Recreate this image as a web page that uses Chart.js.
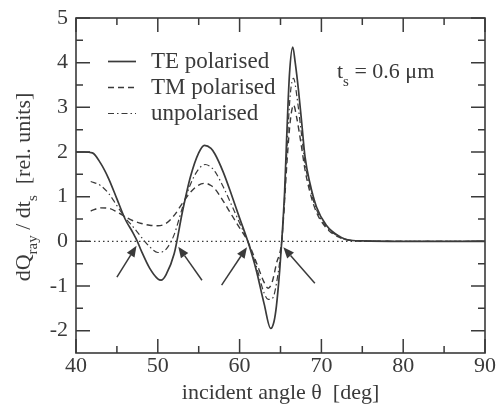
<!DOCTYPE html>
<html>
<head>
<meta charset="utf-8">
<script src="https://cdn.jsdelivr.net/npm/chart.js@4.4.1/dist/chart.umd.min.js"></script>
<style>
  html, body { margin: 0; padding: 0; background: #fff; }
  canvas { display: block; }
</style>
</head>
<body>
<canvas id="ray-chart" width="496" height="407"></canvas>
<script>
// incident angle [deg] and dQ/dt for TE polarisation
const teAngle = [40, 41, 42, 43, 44, 45, 46, 47, 47.5, 48,
    49, 50, 50.4, 51, 52, 53, 54, 55, 55.7, 56.5,
    57, 58, 59, 60, 61, 62, 63, 63.8, 64.2, 64.5,
    64.9, 65.15, 65.5, 65.75, 66.1, 66.5, 66.8, 67.2, 67.6, 68,
    68.6, 69.4, 70.6, 72.3, 73.3, 75, 80, 90];
const teValue = [2, 2, 1.98, 1.75, 1.4, 0.95, 0.5, 0.18, 0, -0.22,
    -0.6, -0.84, -0.87, -0.75, -0.28, 0.65, 1.45, 1.98, 2.15, 2.08,
    1.95, 1.55, 1.05, 0.52, 0, -0.62, -1.4, -1.95, -1.8, -1.45,
    -0.65, 0, 1.1, 2.3, 3.75, 4.35, 4.0, 3.38, 2.64, 1.89,
    1.3, 0.77, 0.36, 0.1, 0.03, 0.01, 0, 0];

// TM and unpolarised share one angle grid
const mixAngle = [41.8, 43, 44, 45, 46, 47, 48, 49, 50, 51,
    52, 53, 54, 55, 55.8, 56.5, 57, 58, 59, 60,
    61, 62, 63, 63.5, 64, 64.5, 65.15, 65.5, 65.8, 66.2,
    66.6, 67, 67.5, 68, 68.6, 69.4, 70.6, 72.3, 73.3, 75,
    80, 90];
const tmValue = [0.68, 0.75, 0.74, 0.66, 0.55, 0.46, 0.4, 0.36, 0.35, 0.4,
    0.58, 0.85, 1.1, 1.26, 1.3, 1.25, 1.17, 0.9, 0.6, 0.3,
    0, -0.45, -0.92, -1.05, -0.9, -0.5, 0, 0.9, 1.8, 2.7,
    3.05, 2.75, 2.2, 1.6, 1.1, 0.65, 0.3, 0.08, 0.03, 0.01,
    0, 0];
const unpolValue = [1.34, 1.25, 1.07, 0.8, 0.53, 0.32, 0.09, -0.12, -0.25, -0.18,
    0.15, 0.75, 1.28, 1.62, 1.72, 1.66, 1.56, 1.22, 0.82, 0.41,
    0, -0.53, -1.16, -1.3, -1.28, -0.95, 0, 1.0, 2.1, 3.3,
    3.65, 3.25, 2.5, 1.75, 1.2, 0.71, 0.33, 0.09, 0.03, 0.01,
    0, 0];

// zero reference line
const zeroAngle = [40, 90];
const zeroValue = [0, 0];

// arrows marking the zero crossings
const arrowFromX = [45.0, 55.4, 57.8, 69.2];
const arrowFromY = [-0.8, -0.87, -0.98, -0.94];
const arrowToX = [47.4, 52.5, 60.9, 65.35];
const arrowToY = [-0.1, -0.12, -0.13, -0.13];

// axis ticks
const xTicks = [40, 50, 60, 70, 80, 90];
const xMinor = [45, 55, 65, 75, 85];
const yTicks = [-2, -1, 0, 1, 2, 3, 4, 5];
const yMinor = [-1.5, -0.5, 0.5, 1.5, 2.5, 3.5, 4.5];

const ink = '#3a3a3a';
const serif = '"Liberation Serif", "DejaVu Serif", serif';

function points(xs, ys) {
    return xs.map((v, i) => ({x: v, y: ys[i]}));
}

// frame, inward ticks, arrows, legend and text labels
const decorations = {
    id: 'decorations',
    afterDatasetsDraw(chart) {
        const {ctx, chartArea: a, scales: {x, y}} = chart;
        ctx.save();
        ctx.strokeStyle = ink;
        ctx.fillStyle = ink;
        ctx.lineWidth = 1.6;
        ctx.setLineDash([]);
        ctx.strokeRect(a.left, a.top, a.right - a.left, a.bottom - a.top);

        ctx.lineWidth = 1.5;
        const xTick = (vals, len) => vals.forEach(v => {
            const px = x.getPixelForValue(v);
            ctx.beginPath();
            ctx.moveTo(px, a.bottom); ctx.lineTo(px, a.bottom - len);
            ctx.moveTo(px, a.top); ctx.lineTo(px, a.top + len);
            ctx.stroke();
        });
        const yTick = (vals, len) => vals.forEach(v => {
            const py = y.getPixelForValue(v);
            ctx.beginPath();
            ctx.moveTo(a.left, py); ctx.lineTo(a.left + len, py);
            ctx.moveTo(a.right, py); ctx.lineTo(a.right - len, py);
            ctx.stroke();
        });
        xTick(xTicks, 14); xTick(xMinor, 7);
        yTick(yTicks, 14); yTick(yMinor, 7);

        // arrows
        ctx.lineWidth = 1.5;
        arrowFromX.forEach((fx, i) => {
            const x0 = x.getPixelForValue(fx), y0 = y.getPixelForValue(arrowFromY[i]);
            const x1 = x.getPixelForValue(arrowToX[i]), y1 = y.getPixelForValue(arrowToY[i]);
            const ang = Math.atan2(y1 - y0, x1 - x0);
            const hl = 11, hw = 4.5;
            const bx = x1 - hl * Math.cos(ang), by = y1 - hl * Math.sin(ang);
            ctx.beginPath();
            ctx.moveTo(x0, y0); ctx.lineTo(bx, by);
            ctx.stroke();
            ctx.beginPath();
            ctx.moveTo(x1, y1);
            ctx.lineTo(bx + hw * Math.sin(ang), by - hw * Math.cos(ang));
            ctx.lineTo(bx - hw * Math.sin(ang), by + hw * Math.cos(ang));
            ctx.closePath();
            ctx.fill();
        });

        // legend
        ctx.font = '23px ' + serif;
        ctx.textBaseline = 'alphabetic';
        ctx.textAlign = 'left';
        const rows = [0, 1, 2];
        rows.forEach((di, r) => {
            const ds = chart.data.datasets[di];
            const base = 68 + r * 26;
            ctx.lineWidth = ds.borderWidth;
            ctx.setLineDash(ds.borderDash || []);
            ctx.beginPath();
            ctx.moveTo(108, base - 6.5); ctx.lineTo(136, base - 6.5);
            ctx.stroke();
            ctx.setLineDash([]);
            ctx.fillText(ds.label, 151, base);
        });

        // layer thickness note
        ctx.font = '22px ' + serif;
        ctx.fillText('t', 337, 78);
        let tx = 337 + ctx.measureText('t').width;
        ctx.font = '15px ' + serif;
        ctx.fillText('s', tx, 86);
        tx += ctx.measureText('s').width;
        ctx.font = '22px ' + serif;
        ctx.fillText(' = 0.6 \u03bcm', tx, 78);

        // y axis title with subscripts
        ctx.translate(30, 187);
        ctx.rotate(-Math.PI / 2);
        const parts = [['dQ', false], ['ray', true], [' / dt', false], ['s', true], ['  [rel. units]', false]];
        const fontFor = sub => (sub ? '15px ' : '22px ') + serif;
        let total = 0;
        parts.forEach(([t, sub]) => { ctx.font = fontFor(sub); total += ctx.measureText(t).width; });
        let px = -total / 2;
        parts.forEach(([t, sub]) => {
            ctx.font = fontFor(sub);
            ctx.fillText(t, px, sub ? 7 : 0);
            px += ctx.measureText(t).width;
        });
        ctx.restore();
    }
};

const data = {
    datasets: [
        {
            label: 'TE polarised',
            data: points(teAngle, teValue),
            borderColor: ink,
            borderWidth: 1.7,
            borderDash: []
        },
        {
            label: 'TM polarised',
            data: points(mixAngle, tmValue),
            borderColor: ink,
            borderWidth: 1.4,
            borderDash: [6, 4]
        },
        {
            label: 'unpolarised',
            data: points(mixAngle, unpolValue),
            borderColor: ink,
            borderWidth: 1.2,
            borderDash: [6, 3, 1.5, 3]
        },
        {
            label: 'zero',
            data: points(zeroAngle, zeroValue),
            borderColor: ink,
            borderWidth: 1.2,
            borderDash: [1.5, 3],
            order: 5
        }
    ]
};

const config = {
    type: 'line',
    data: data,
    options: {
        responsive: false,
        devicePixelRatio: 1,
        animation: false,
        elements: {
            point: { radius: 0 },
            line: { cubicInterpolationMode: 'monotone', fill: false }
        },
        layout: {
            padding: { left: 0, right: 11, top: 18, bottom: 0 }
        },
        plugins: {
            legend: { display: false },
            tooltip: { enabled: false }
        },
        scales: {
            x: {
                type: 'linear',
                min: 40,
                max: 90,
                grid: { display: false, drawTicks: false },
                border: { display: false },
                afterBuildTicks: s => { s.ticks = xTicks.map(v => ({value: v})); },
                afterFit: s => {
                    s.height = 54;
                    s.paddingLeft = 0; s.paddingRight = 0;
                },
                ticks: {
                    padding: 0,
                    color: ink,
                    font: { family: serif, size: 22 }
                },
                title: {
                    display: true,
                    text: 'incident angle \u03b8  [deg]',
                    color: ink,
                    font: { family: serif, size: 22 },
                    padding: { top: 0, bottom: 1 }
                }
            },
            y: {
                type: 'linear',
                min: -2.5,
                max: 5,
                grid: { display: false, drawTicks: false },
                border: { display: false },
                afterBuildTicks: s => { s.ticks = yTicks.map(v => ({value: v})); },
                afterFit: s => {
                    s.width = 76;
                    s.paddingTop = 0; s.paddingBottom = 0;
                },
                ticks: {
                    padding: 8,
                    color: ink,
                    font: { family: serif, size: 22 }
                }
            }
        }
    },
    plugins: [decorations]
};

new Chart(document.getElementById('ray-chart'), config);
</script>
</body>
</html>
